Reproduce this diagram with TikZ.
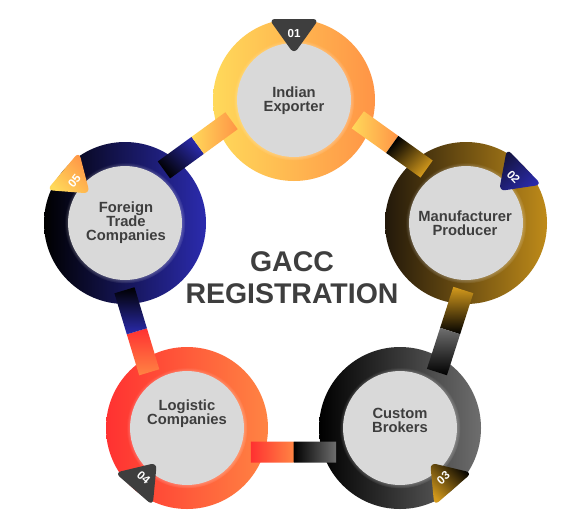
\documentclass[tikz,border=0pt]{standalone}
\usepackage{fontspec}
\setmainfont{Liberation Sans}
\usetikzlibrary{calc,backgrounds,shadows}
\definecolor{gaccyel}{HTML}{FFD95A}
\definecolor{gaccorg}{HTML}{FF9446}
\definecolor{gaccgold}{HTML}{D49A1C}
\definecolor{gaccbrown}{HTML}{22180A}
\definecolor{gaccnavy}{HTML}{2B2BAE}
\definecolor{gaccnavyd}{HTML}{14143F}
\definecolor{gaccred}{HTML}{FF3131}
\definecolor{gacccoral}{HTML}{FF8443}
\definecolor{gaccgrey}{HTML}{6E6E6E}
\definecolor{gaccink}{HTML}{3E3E3E}
\definecolor{gaccdisc}{HTML}{D9D9D9}
\def\bw{0.21cm}
\tikzset{
  disc/.style={circle, fill=gaccdisc, minimum size=2.28cm, inner sep=0pt, circular glow={fill=white, opacity=0.55, shadow scale=1.06}},
  txt/.style={align=center, font=\fontsize{8.4}{8}\selectfont\bfseries, text=gaccink, inner sep=0pt},
  ttl/.style={align=center, font=\fontsize{16.2}{18.2}\selectfont\bfseries, text=gaccink, inner sep=0pt},
  num/.style={font=\fontsize{6.6}{7}\selectfont\bfseries, text=white, inner sep=0pt},
  bdark/.style={fill=gaccink},
  bnavy/.style={top color=gaccnavyd, bottom color=gaccnavy, shading angle=45},
  bgold/.style={top color=black, bottom color=gaccgold, shading angle=-45},
  bsun/.style={top color=gaccorg, bottom color=gaccyel, shading angle=-45},
}
\begin{document}
\begin{tikzpicture}[x=0.02cm, y=-0.02cm]
  \useasboundingbox (0,0) rectangle (588,531);
  % discs
  \node[disc] (ie) at (294,100) {};
  \node[disc] (mp) at (466,223) {};
  \node[disc] (cb) at (400,428) {};
  \node[disc] (lc) at (187,428) {};
  \node[disc] (ft) at (125,223) {};
  \begin{scope}[on background layer]
    \fill[white] (0,0) rectangle (588,531);
    % rings
    \shade[left color=gaccyel, right color=gaccorg] (ie.center) circle (81);
    \shade[left color=gaccbrown, right color=gaccgold!90!black] (mp.center) circle (81);
    \shade[left color=black, right color=gaccgrey] (cb.center) circle (81);
    \shade[left color=gaccred, right color=gacccoral] (lc.center) circle (81);
    \shade[left color=black, right color=gaccnavy] (ft.center) circle (81);
    % bars, two halves each
    \foreach \fA/\fB/\dO/\cA/\cB/\aA/\cC/\cD/\aB in {
      ie/mp/0.42cm/gaccyel/gaccorg/90/black/gaccgold/45,
      mp/cb/0.36cm/gaccgold/black/0/gaccgrey/black/0,
      cb/lc/0.48cm/black/gaccgrey/90/gaccred/gacccoral/90,
      lc/ft/0.40cm/gaccred/gacccoral/0/black/gaccnavy/0,
      ft/ie/0.40cm/black/gaccnavy/135/gaccyel/gaccorg/90}
    {
      \coordinate (\fA\fB1) at ($(\fA.center)!0.3!(\fB.center)!\dO!90:(\fB.center)$);
      \coordinate (\fA\fB2) at ($(\fA.center)!0.5!(\fB.center)!\dO!90:(\fB.center)$);
      \coordinate (\fA\fB3) at ($(\fA.center)!0.7!(\fB.center)!\dO!90:(\fB.center)$);
      \shade[top color=\cA, bottom color=\cB, shading angle=\aA]
        ($(\fA\fB1)!\bw!90:(\fA\fB2)$) -- ($(\fA\fB1)!\bw!-90:(\fA\fB2)$) --
        ($(\fA\fB2)!\bw!90:(\fA\fB1)$) -- ($(\fA\fB2)!\bw!-90:(\fA\fB1)$) -- cycle;
      \shade[top color=\cC, bottom color=\cD, shading angle=\aB]
        ($(\fA\fB2)!\bw!90:(\fA\fB3)$) -- ($(\fA\fB2)!\bw!-90:(\fA\fB3)$) --
        ($(\fA\fB3)!\bw!90:(\fA\fB2)$) -- ($(\fA\fB3)!\bw!-90:(\fA\fB2)$) -- cycle;
    }
  \end{scope}
  % badges
  \foreach \c/\a/\t/\n/\st in {ie/90/0/01/bdark, mp/44/-46/02/bnavy, cb/-49/41/03/bgold, lc/-131/-41/04/bdark, ft/140/50/05/bsun} {
    \begin{scope}[shift={(\c.center)}, rotate=\a-90]
      \path[\st, rounded corners=3.5pt] (-25,-81) -- (25,-81) -- (0,-46) -- cycle;
      \node[num, rotate=\t] (n\n) at (0,-66) {\n};
    \end{scope}
  }
  % texts
  \node[txt] (iet) at (294,101) {Indian\\Exporter};
  \node[txt] (mpt) at (465,223) {Manufacturer\\Producer};
  \node[txt] (cbt) at (400,420) {Custom\\Brokers};
  \node[txt] (lct) at (187,414) {Logistic\\Companies};
  \node[txt] (ftt) at (126,223) {Foreign\\Trade\\Companies};
  \node[ttl] (gacc) at (292,278) {GACC\\REGISTRATION};
\end{tikzpicture}
\end{document}
